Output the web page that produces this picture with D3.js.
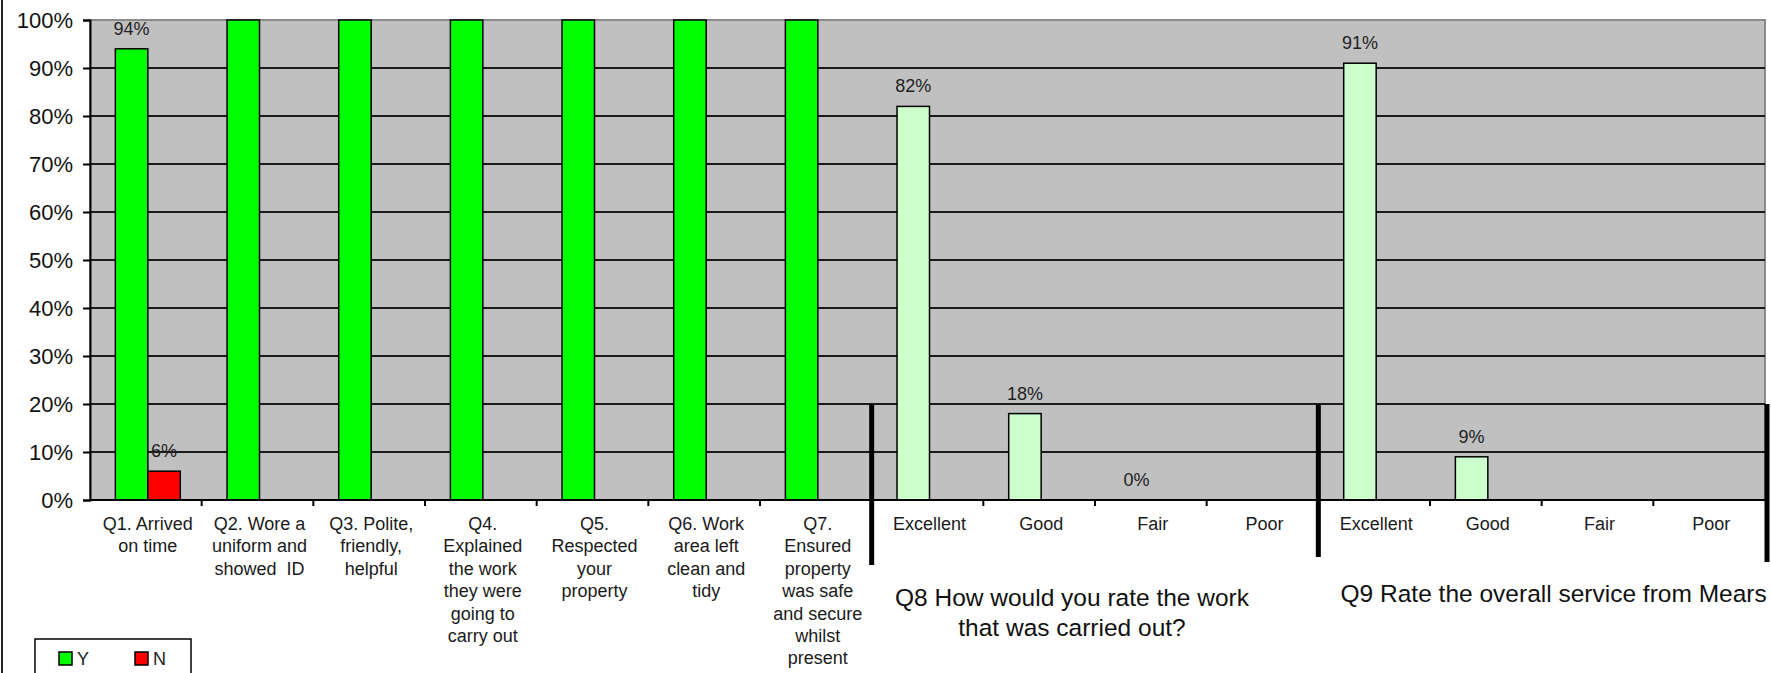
<!DOCTYPE html>
<html>
<head>
<meta charset="utf-8">
<script src="https://cdn.jsdelivr.net/npm/d3@7/dist/d3.min.js"></script>
<style>
  html, body { margin: 0; padding: 0; background: #fff; }
  svg { display: block; font-family: "Liberation Sans", Arial, sans-serif; }
  text { white-space: pre; }
</style>
</head>
<body>
<svg id="chart" width="1771" height="673"></svg>
<script>
// categories along the x axis (label lines)
const categories = [
  ["Q1. Arrived", "on time"],
  ["Q2. Wore a", "uniform and", "showed  ID"],
  ["Q3. Polite,", "friendly,", "helpful"],
  ["Q4.", "Explained", "the work", "they were", "going to", "carry out"],
  ["Q5.", "Respected", "your", "property"],
  ["Q6. Work", "area left", "clean and", "tidy"],
  ["Q7.", "Ensured", "property", "was safe", "and secure", "whilst", "present"],
  ["Excellent"], ["Good"], ["Fair"], ["Poor"],
  ["Excellent"], ["Good"], ["Fair"], ["Poor"]
];
const series = ["Y", "N"];
const yValues = [94, 100, 100, 100, 100, 100, 100, 82, 18, 0, null, 91, 9, null, null];
const nValues = [6, null, null, null, null, null, null, null, null, null, null, null, null, null, null];
const ratingStart = 7; // first rating category (light green bars)
const sections = [
  { from: 7, to: 10, title: ["Q8 How would you rate the work", "that was carried out?"] },
  { from: 11, to: 14, title: ["Q9 Rate the overall service from Mears"] }
];
const yTicks = [0, 10, 20, 30, 40, 50, 60, 70, 80, 90, 100];

const W = 1771, H = 673;
const plot = { left: 90, right: 1765, top: 20, bottom: 500 };

const svg = d3.select("#chart");
const font = "\"Liberation Sans\", Arial, sans-serif";

const ids = categories.map((d, i) => i);
const x = d3.scaleBand().domain(ids).range([plot.left, plot.right]).padding(0);
const xs = d3.scaleBand().domain(series).range([2, x.bandwidth() + 2])
  .paddingInner(0).paddingOuter(0.72);
const y = d3.scaleLinear().domain([0, 100]).range([plot.bottom, plot.top]);

// outer chart border (left edge)
svg.append("line")
  .attr("x1", 2).attr("x2", 2).attr("y1", 0).attr("y2", H)
  .attr("stroke", "#222").attr("stroke-width", 2);

// plot background
svg.append("rect")
  .attr("x", plot.left).attr("y", plot.top)
  .attr("width", plot.right - plot.left).attr("height", plot.bottom - plot.top)
  .attr("fill", "#c0c0c0").attr("stroke", "#8a8a8a").attr("stroke-width", 2);

// gridlines
svg.append("g")
  .selectAll("line")
  .data(yTicks.filter((t) => t > 0 && t < 100))
  .join("line")
  .attr("x1", plot.left).attr("x2", plot.right)
  .attr("y1", (d) => y(d)).attr("y2", (d) => y(d))
  .attr("stroke", "#1a1a1a").attr("stroke-width", 2);

// bars
const bars = [];
ids.forEach((i) => {
  if (yValues[i] != null) bars.push({ i, s: "Y", v: yValues[i] });
  if (nValues[i] != null) bars.push({ i, s: "N", v: nValues[i] });
});
const fillOf = (d) => d.s === "N" ? "#ff0000" : (d.i >= ratingStart ? "#ccffcc" : "#00ff00");

svg.append("g")
  .selectAll("rect")
  .data(bars.filter((d) => d.v > 0))
  .join("rect")
  .attr("x", (d) => x(d.i) + xs(d.s))
  .attr("y", (d) => y(d.v))
  .attr("width", xs.bandwidth())
  .attr("height", (d) => y(0) - y(d.v))
  .attr("fill", fillOf)
  .attr("stroke", "#000").attr("stroke-width", 1.5);

// value labels (100% labels fall outside the plot and are not shown)
svg.append("g")
  .selectAll("text")
  .data(bars.filter((d) => d.v < 100))
  .join("text")
  .attr("x", (d) => x(d.i) + xs(d.s) + xs.bandwidth() / 2)
  .attr("y", (d) => y(d.v) - 14)
  .attr("text-anchor", "middle")
  .style("font-size", "18px")
  .style("fill", "#222")
  .text((d) => d.v + "%");

// y axis
const yAxis = svg.append("g")
  .attr("transform", `translate(${plot.left},0)`)
  .call(d3.axisLeft(y).tickValues(yTicks).tickSize(7).tickFormat((d) => d + "%"));
yAxis.select(".domain").attr("stroke", "#000").attr("stroke-width", 2);
yAxis.selectAll(".tick line").attr("stroke", "#000").attr("stroke-width", 2);
yAxis.selectAll(".tick text")
  .attr("x", -17)
  .style("font-family", font).style("font-size", "22px").style("fill", "#111");

// x axis: line + ticks at category boundaries
svg.append("line")
  .attr("x1", plot.left).attr("x2", plot.right)
  .attr("y1", plot.bottom).attr("y2", plot.bottom)
  .attr("stroke", "#000").attr("stroke-width", 2);
svg.append("g")
  .selectAll("line")
  .data(ids.slice(1))
  .join("line")
  .attr("x1", (d) => x(d)).attr("x2", (d) => x(d))
  .attr("y1", plot.bottom).attr("y2", plot.bottom + 6)
  .attr("stroke", "#000").attr("stroke-width", 2);

// category labels
const catG = svg.append("g")
  .selectAll("text")
  .data(ids)
  .join("text")
  .attr("text-anchor", "middle")
  .attr("y", 530)
  .style("font-size", "18px")
  .style("fill", "#1a1a1a");
catG.selectAll("tspan")
  .data((i) => categories[i].map((t, k) => ({ t, k, i })))
  .join("tspan")
  .attr("x", (d) => x(d.i) + x.bandwidth() / 2 + 2)
  .attr("y", (d) => 530 + d.k * 22.4)
  .text((d) => d.t);

// thick section dividers
const dividers = [sections[0].from, sections[1].from, sections[1].to + 1];
svg.append("g")
  .selectAll("line")
  .data(dividers)
  .join("line")
  .attr("x1", (d) => d < ids.length ? x(d) : plot.right + 2)
  .attr("x2", (d) => d < ids.length ? x(d) : plot.right + 2)
  .attr("y1", y(20))
  .attr("y2", (d, k) => [565, 557, 562][k])
  .attr("stroke", "#000").attr("stroke-width", 5);

// section titles
const titleOffset = [-23, 12];
sections.forEach((s, k) => {
  const cx = (x(s.from) + x(s.to) + x.bandwidth()) / 2 + titleOffset[k];
  const t = svg.append("text")
    .attr("text-anchor", "middle")
    .style("font-size", "24.5px")
    .style("fill", "#111");
  t.selectAll("tspan")
    .data(s.title)
    .join("tspan")
    .attr("x", cx)
    .attr("y", (d, j) => (k === 0 ? 606 : 602) + j * 30)
    .text((d) => d);
});

// legend
const lg = svg.append("g");
lg.append("rect")
  .attr("x", 35).attr("y", 639).attr("width", 156).attr("height", 50)
  .attr("fill", "#fff").attr("stroke", "#000").attr("stroke-width", 1.5);
const legendItems = [
  { s: "Y", color: "#00ff00", x: 59 },
  { s: "N", color: "#ff0000", x: 135 }
];
lg.selectAll("rect.key")
  .data(legendItems)
  .join("rect")
  .attr("class", "key")
  .attr("x", (d) => d.x).attr("y", 652)
  .attr("width", 13).attr("height", 13)
  .attr("fill", (d) => d.color)
  .attr("stroke", "#000").attr("stroke-width", 1.5);
lg.selectAll("text")
  .data(legendItems)
  .join("text")
  .attr("x", (d) => d.x + 18).attr("y", 665)
  .style("font-size", "18px")
  .style("fill", "#222")
  .text((d) => d.s);
</script>
</body>
</html>
